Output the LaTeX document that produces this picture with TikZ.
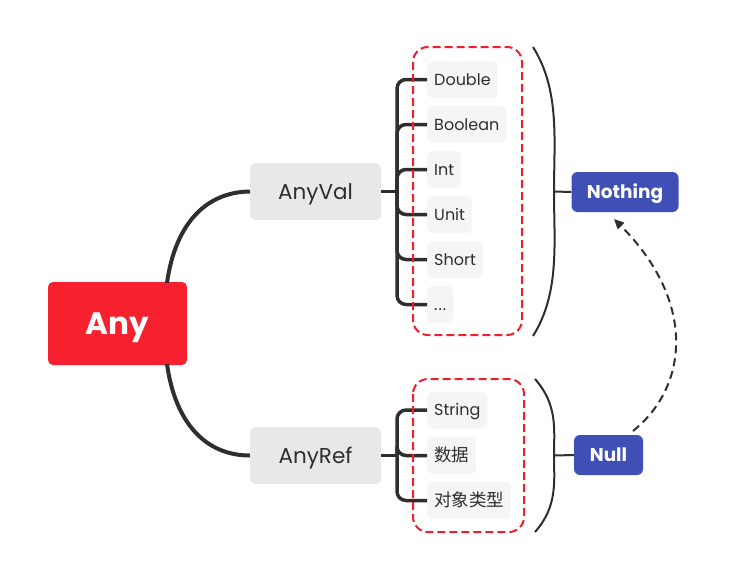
\documentclass[tikz,border=0pt]{standalone}
\usepackage{fontspec}
\setmainfont{Poppins}
\newfontfamily\cjk{Noto Sans CJK SC}
\usetikzlibrary{arrows.meta,calc}
\definecolor{anyred}{HTML}{F7202E}
\definecolor{nblue}{HTML}{3F4FB5}
\definecolor{lgray}{HTML}{E8E8E8}
\definecolor{cgray}{HTML}{F5F5F5}
\definecolor{ink}{HTML}{2E2E2E}
\definecolor{dred}{HTML}{F01E2C}
\tikzset{
  rootbox/.style={fill=anyred,text=white,rounded corners=5pt,minimum width=139pt,minimum height=83pt,font=\fontsize{31}{33}\selectfont\bfseries,inner sep=0pt,text height=21.7pt,text depth=0pt},
  midbox/.style={fill=lgray,text=ink,rounded corners=6pt,minimum width=131pt,minimum height=57pt,font=\fontsize{21.5}{23}\selectfont,inner sep=0pt,text height=15pt,text depth=0pt},
  leafbox/.style={fill=cgray,text=ink,rounded corners=6pt,minimum height=37pt,inner xsep=7pt,inner ysep=0pt,anchor=west,font=\fontsize{16}{18}\selectfont,text height=11.2pt,text depth=0pt},
  bluebox/.style={fill=nblue,text=white,rounded corners=6pt,inner sep=0pt,font=\fontsize{18.5}{20}\selectfont\bfseries,text height=13pt,text depth=0pt},
  conn/.style={draw=ink,line width=4pt},
  branch/.style={draw=ink,line width=3.5pt,rounded corners=9pt},
  group/.style={draw=dred,line width=2pt,dash pattern=on 8pt off 4pt,rounded corners=15pt},
  paren/.style={draw=ink,line width=2pt},
  darrow/.style={draw=ink,line width=2pt,dash pattern=on 8pt off 5pt,-{Triangle[length=10pt,width=9pt]}}
}
\begin{document}
\begin{tikzpicture}[x=1pt,y=-1pt]
\useasboundingbox (0,0) rectangle (735,568);
% main nodes
\node[rootbox] (Any) at (117.5,323.5) {Any};
\node[midbox] (AnyVal) at (315.5,191.5) {AnyVal};
\node[midbox] (AnyRef) at (315.5,455.5) {AnyRef};
\node[bluebox,minimum width=107pt,minimum height=40pt] (Nothing) at (625,192) {Nothing};
\node[bluebox,minimum width=69pt,minimum height=40pt] (Null) at (608.5,455) {Null};
% leaves of AnyVal
\node[leafbox] (Double) at (427,79.5) {Double};
\node[leafbox] (Boolean) at (427,124.5) {Boolean};
\node[leafbox] (Int) at (427,169.5) {Int};
\node[leafbox] (Unit) at (427,214.5) {Unit};
\node[leafbox] (Short) at (427,259.5) {Short};
\node[leafbox] (Dots) at (427,304.5) {.\kern1pt.\kern1pt.};
% leaves of AnyRef
\node[leafbox] (String) at (427,410) {String};
\node[leafbox] (Shuju) at (427,455.5) {\cjk\fontsize{17.5}{19}\selectfont 数据};
\node[leafbox] (Duixiang) at (427,500.5) {\cjk\fontsize{17.5}{19}\selectfont 对象类型};
% curves from root
\coordinate (a1) at (167,283);
\coordinate (a2) at (167,364);
\draw[conn] (a1) .. controls (175,225) and (205,192) .. (AnyVal.west);
\draw[conn] (a2) .. controls (175,422) and (205,455.5) .. (AnyRef.west);
% bracket branches
\coordinate (j1) at (397,191.5);
\coordinate (j2) at (397,455.5);
\draw[branch] (AnyVal.east) -- (j1);
\foreach \c in {Double,Boolean,Int,Unit,Short,Dots}{
  \draw[branch] (j1) |- (\c.west);
}
\draw[branch] (AnyRef.east) -- (j2);
\foreach \c in {String,Shuju,Duixiang}{
  \draw[branch] (j2) |- (\c.west);
}
% dashed groups
\draw[group] (413,47) rectangle (522,335);
\draw[group] (413,379) rectangle (524,532);
% parentheses
\coordinate (p1) at (554,191.5);
\coordinate (p2) at (554,455.5);
\draw[paren] (533,47) .. controls (560,90) and (554,140) .. (p1) .. controls (554,243) and (560,293) .. (533,336);
\draw[paren] (p1) -- (Nothing.west);
\draw[paren] (535,379) .. controls (558,405) and (554,430) .. (p2) .. controls (554,481) and (558,506) .. (535,532);
\draw[paren] (p2) -- (Null.west);
% dashed arrow
\coordinate (s1) at (633,431);
\coordinate (e1) at (614,219);
\draw[darrow] (s1) .. controls (690,385) and (695,300) .. (e1);
\end{tikzpicture}
\end{document}
